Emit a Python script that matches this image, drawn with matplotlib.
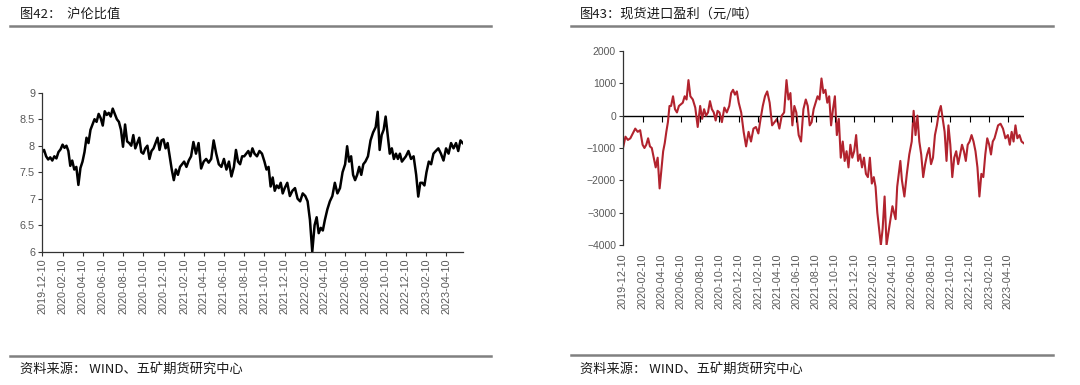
import matplotlib
matplotlib.use("Agg")
import matplotlib.pyplot as plt
from matplotlib.lines import Line2D
import pandas as pd

plt.rcParams['font.family'] = ['Liberation Sans', 'Noto Sans CJK SC', 'DejaVu Sans']

cjk = ['Noto Sans CJK SC', 'DejaVu Sans']

# one list per period, each period runs from the 10th to the 10th of next month
shfe_lme_ratio = [
    [7.88, 7.92, 7.8, 7.74, 7.78],
    [7.72, 7.8, 7.76, 7.88, 7.93],
    [8.02, 7.96, 8.0, 7.9, 7.62],
    [7.72, 7.55, 7.6, 7.26, 7.58],
    [7.7, 7.88, 8.15, 8.05, 8.3],
    [8.4, 8.5, 8.45, 8.6, 8.52],
    [8.38, 8.65, 8.58, 8.62, 8.55],
    [8.7, 8.6, 8.5, 8.45, 8.3],
    [7.98, 8.4, 8.08, 8.05, 8.0],
    [8.2, 7.95, 8.05, 8.15, 7.88],
    [7.85, 7.95, 8.0, 7.75, 7.9],
    [7.95, 8.05, 8.15, 7.92, 8.1],
    [8.12, 7.95, 8.05, 7.8, 7.55],
    [7.35, 7.55, 7.45, 7.6, 7.65],
    [7.7, 7.6, 7.72, 7.8],
    [8.07, 7.85, 8.05, 7.57],
    [7.7, 7.75, 7.68, 7.75],
    [8.1, 7.85, 7.65, 7.6],
    [7.75, 7.55, 7.7, 7.42],
    [7.6, 7.92, 7.7, 7.65, 7.8],
    [7.8, 7.85, 7.9, 7.8, 7.95],
    [7.85, 7.8, 7.9, 7.85],
    [7.7, 7.55, 7.6, 7.23, 7.4],
    [7.15, 7.25, 7.2, 7.3, 7.1],
    [7.2, 7.3, 7.05, 7.15],
    [7.2, 7.0, 6.95, 7.1],
    [7.05, 6.95, 6.6, 6.0],
    [6.5, 6.65, 6.35, 6.45, 6.4],
    [6.6, 6.8, 6.95, 7.05],
    [7.3, 7.1, 7.2, 7.5],
    [7.65, 7.99, 7.7, 7.8, 7.45],
    [7.35, 7.45, 7.6, 7.45, 7.65],
    [7.7, 7.8, 8.1, 8.25],
    [8.35, 8.64, 7.92, 8.2, 8.3],
    [8.55, 8.2, 7.85, 7.95, 7.75],
    [7.85, 7.75, 7.85, 7.7, 7.75],
    [7.8, 7.9, 7.75, 7.8],
    [7.45, 7.04, 7.3, 7.3, 7.25],
    [7.5, 7.7, 7.65, 7.85],
    [7.9, 7.95, 7.85, 7.72],
    [7.95, 7.85, 8.05, 7.95],
    [8.05, 7.9, 8.1, 8.05],
]

import_profit = [
    [-1000, -650, -750, -700],
    [-550, -400, -500, -450],
    [-900, -1000, -900, -700, -950],
    [-1000, -1300, -1600, -1300, -2250],
    [-1600, -1100, -850, -500, -200, 300],
    [300, 600, 200, 100, 300],
    [350, 400, 600, 500, 1100],
    [600, 500, 250, -350],
    [300, -100, 200, 0, 100],
    [450, 200, 100, -150, 150],
    [100, -200, 250, 100],
    [300, 700, 800, 650, 750],
    [400, 100, -500, -950],
    [-500, -800, -400, -350],
    [-550, -100, 300, 600],
    [750, 400, -300, -200],
    [-100, -400, 0, 100],
    [1100, 500, 700, -300, 300],
    [100, -600, -800, 200],
    [500, 300, -300, -200, 200],
    [400, 600, 500, 1150, 700],
    [800, 400, 600, -300, 200],
    [600, -600, -100, -1300, -800],
    [-1400, -1100, -1600, -900, -1300],
    [-1100, -600, -1400, -1200, -1600],
    [-1300, -1800, -1900, -1300, -2100],
    [-1900, -2200, -3000, -3500, -4000],
    [-3500, -2500, -4000, -3600, -3200],
    [-2800, -3000, -3200, -2200, -1800, -1400],
    [-2000, -2500, -1800, -1200],
    [-800, 150, -600, 0, -800],
    [-1200, -1900, -1500, -1200, -1000],
    [-1500, -1300, -600, -300, 100],
    [300, -100, -500, -1400, -300],
    [-900, -1900, -1300, -1100, -1500],
    [-1200, -900, -1100, -1400, -900],
    [-800, -600, -800, -1100, -1600],
    [-2500, -1800, -1900, -1200, -700],
    [-900, -1200, -800, -700, -500],
    [-300, -250, -400, -700],
    [-600, -900, -500, -800, -300],
    [-700, -600, -800, -850],
]

first_day = pd.Timestamp('2019-12-10')
last_day = pd.Timestamp('2023-05-30')
x_end = pd.Timestamp('2023-05-31')
tick_dates = pd.date_range('2019-12-01', '2023-04-01', freq='2MS') + pd.Timedelta(days=9)
tick_labels = [d.strftime('%Y-%m-%d') for d in tick_dates]


def flatten(periods):
    edges = [first_day + pd.DateOffset(months=i) for i in range(len(periods))] + [last_day]
    dates, values = [], []
    for i, vals in enumerate(periods):
        span = edges[i + 1] - edges[i]
        k = len(vals) if i < len(periods) - 1 else len(vals) - 1
        for j, v in enumerate(vals):
            dates.append(edges[i] + span * j / k)
            values.append(v)
    return dates, values


fig = plt.figure(figsize=(10.8, 3.85), dpi=100)
W, H = 1080, 385


def hline(x0, x1, y):
    fig.add_artist(Line2D([x0 / W, x1 / W], [1 - y / H, 1 - y / H], color='#808080', lw=1.8))


hline(10, 491, 26)
hline(10, 491, 356)
hline(571, 1053, 26)
hline(571, 1053, 355)
fig.text(20 / W, 1 - 14 / H, '图42：  沪伦比值', family=cjk, fontsize=9.5, va='center', color='#1a1a1a')
fig.text(580 / W, 1 - 14 / H, '图43：现货进口盈利（元/吨）', family=cjk, fontsize=9.5, va='center', color='#1a1a1a')
fig.text(20 / W, 1 - 369 / H, '资料来源： WIND、五矿期货研究中心', family=cjk, fontsize=9.5, va='center', color='#1a1a1a')
fig.text(580 / W, 1 - 369 / H, '资料来源： WIND、五矿期货研究中心', family=cjk, fontsize=9.5, va='center', color='#1a1a1a')

# left chart
ax1 = fig.add_axes([42 / W, 1 - 251.7 / H, 421 / W, 159 / H])
d1, v1 = flatten(shfe_lme_ratio)
ax1.plot(d1, v1, color='black', lw=1.8)
ax1.set_ylim(6, 9)
ax1.set_yticks([6, 6.5, 7, 7.5, 8, 8.5, 9])
ax1.set_yticklabels(['6', '6.5', '7', '7.5', '8', '8.5', '9'])
ax1.set_xlim(first_day, x_end)
ax1.set_xticks(tick_dates)
ax1.set_xticklabels(tick_labels, rotation=90)
for s in ['top', 'right']:
    ax1.spines[s].set_visible(False)
for s in ['left', 'bottom']:
    ax1.spines[s].set_color('#333333')
    ax1.spines[s].set_linewidth(0.9)
ax1.tick_params(length=3, width=0.8, color='#333333', labelsize=7.8, labelcolor='#595959', pad=2)

# right chart
ax2 = fig.add_axes([623 / W, 1 - 245 / H, 401 / W, 194 / H])
d2, v2 = flatten(import_profit)
ax2.plot(d2, v2, color='#B2232E', lw=1.5)
ax2.axhline(0, color='black', lw=1, zorder=1)
ax2.plot(tick_dates[1:], [0] * (len(tick_dates) - 1), ls='', marker=3, ms=4, mew=0.8, color='black')
ax2.set_ylim(-4000, 2000)
ax2.set_yticks(range(-4000, 2001, 1000))
ax2.set_xlim(first_day, x_end)
ax2.set_xticks(tick_dates)
ax2.set_xticklabels(tick_labels, rotation=90)
for s in ['top', 'right', 'bottom']:
    ax2.spines[s].set_visible(False)
ax2.spines['left'].set_color('#333333')
ax2.spines['left'].set_linewidth(0.9)
ax2.tick_params(axis='y', length=3, width=0.8, color='#333333', labelsize=7.5, labelcolor='#595959', pad=2)
ax2.tick_params(axis='x', length=0, labelsize=7.8, labelcolor='#595959', pad=6)

fig.savefig('out.png', dpi=100)
